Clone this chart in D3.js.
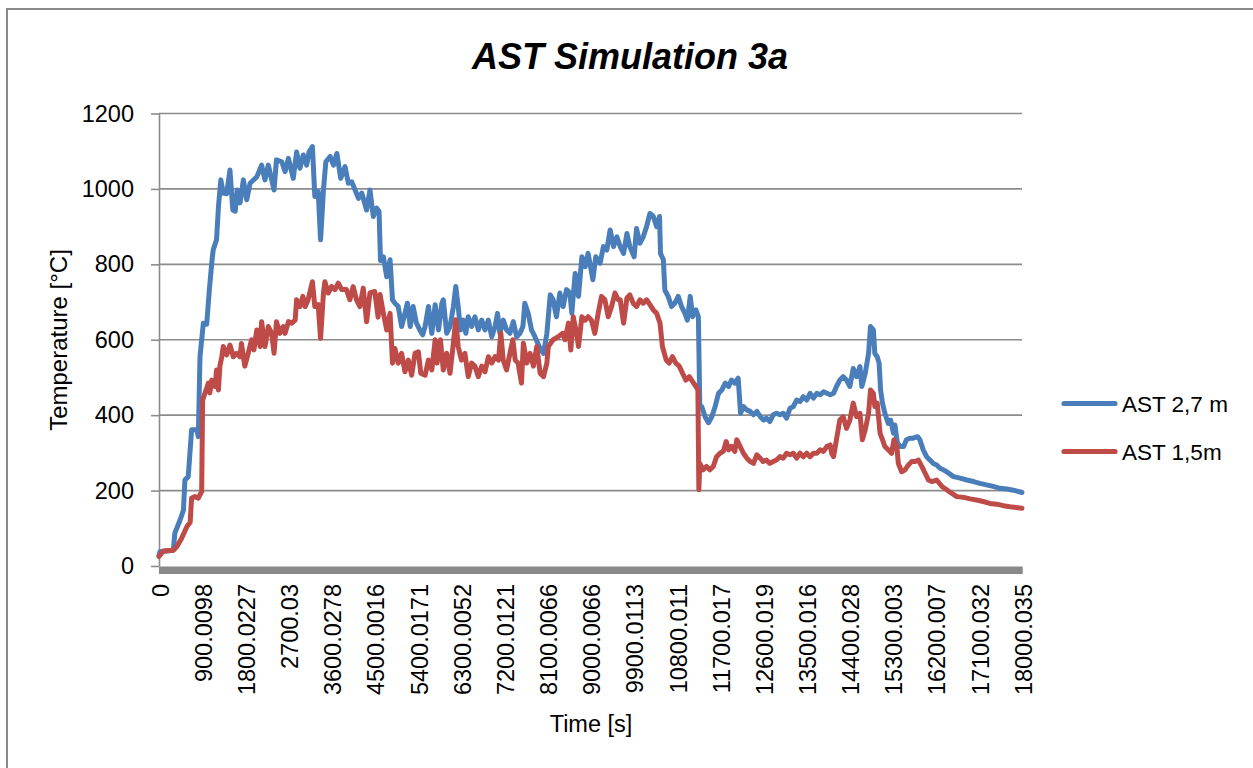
<!DOCTYPE html>
<html>
<head>
<meta charset="utf-8">
<script src="https://cdn.jsdelivr.net/npm/d3@7"></script>
<style>
  html, body { margin: 0; padding: 0; background: #fff; }
  svg { display: block; }
  text { font-family: "Liberation Sans", Arial, sans-serif; fill: #000; }
</style>
</head>
<body>
<svg id="chart" width="1253" height="768"></svg>
<script>
// Temperature readings [time (s), °C]
const ast27 = [
  [0,28],[20,38],[300,42],[330,87],[440,122],[510,148],[540,228],[610,237],[680,361],[790,361],[820,343],
  [855,555],[925,644],[995,641],[1050,732],[1100,803],[1130,838],[1200,865],[1240,953],[1290,1024],[1340,989],
  [1410,987],[1480,1050],[1540,944],[1590,941],[1630,997],[1690,963],[1760,1024],[1830,971],[1900,1015],
  [2040,1032],[2140,1063],[2210,1024],[2280,1063],[2400,997],[2450,1077],[2560,1072],[2630,1046],[2700,1081],
  [2800,1028],[2870,1098],[2940,1055],[3010,1090],[3080,1063],[3130,1098],[3200,1112],[3250,980],[3320,993],
  [3370,865],[3430,997],[3480,1072],[3570,1086],[3640,1063],[3710,1094],[3790,1028],[3880,1059],[3950,1015],
  [4020,1019],[4090,997],[4160,975],[4230,989],[4330,944],[4400,997],[4470,927],[4540,949],[4590,940],
  [4620,810],[4680,820],[4750,767],[4820,812],[4870,706],[4920,697],[4990,688],[5060,635],[5130,670],
  [5180,697],[5240,635],[5300,688],[5370,644],[5440,626],[5500,613],[5550,635],[5620,688],[5690,617],
  [5760,693],[5830,626],[5900,697],[5930,706],[6000,617],[6070,635],[6140,688],[6190,741],[6240,688],
  [6290,626],[6350,652],[6400,617],[6450,661],[6520,635],[6590,661],[6660,626],[6730,652],[6800,626],
  [6870,652],[6940,608],[7010,635],[7060,670],[7110,617],[7180,652],[7250,626],[7320,617],[7390,648],
  [7460,608],[7530,617],[7590,635],[7630,697],[7700,670],[7770,626],[7840,608],[7930,582],[8020,564],
  [8090,617],[8160,719],[8220,706],[8290,661],[8360,724],[8430,688],[8500,733],[8570,724],[8610,670],
  [8680,776],[8750,715],[8820,820],[8890,794],[8950,829],[9050,759],[9110,820],[9200,803],[9270,847],
  [9340,838],[9410,891],[9480,847],[9550,873],[9620,847],[9690,829],[9760,882],[9820,847],[9910,820],
  [9960,895],[10030,856],[10100,873],[10170,900],[10240,935],[10310,927],[10380,900],[10440,927],[10460,829],
  [10520,812],[10550,732],[10620,715],[10690,688],[10760,697],[10830,715],[10900,688],[10970,670],[11020,652],
  [11080,715],[11130,661],[11200,679],[11250,661],[11280,423],[11320,423],[11390,396],[11460,380],[11530,396],
  [11600,423],[11670,458],[11740,467],[11810,485],[11880,476],[11940,493],[12010,485],[12080,498],[12130,405],
  [12190,423],[12260,414],[12330,410],[12400,401],[12470,410],[12540,396],[12610,387],[12670,392],[12740,383],
  [12810,401],[12880,405],[12950,401],[13020,405],[13090,392],[13160,418],[13230,423],[13300,440],[13370,436],
  [13440,449],[13510,440],[13580,458],[13650,445],[13720,458],[13790,454],[13860,462],[13930,458],[14000,454],
  [14070,458],[14130,476],[14200,493],[14270,502],[14340,493],[14410,476],[14480,524],[14550,502],[14620,529],
  [14660,476],[14730,511],[14800,564],[14840,635],[14900,626],[14930,564],[14980,555],[15020,538],[15050,467],
  [15090,432],[15140,405],[15210,378],[15260,387],[15320,352],[15350,374],[15400,326],[15460,317],[15530,317],
  [15590,335],[15660,339],[15730,339],[15820,343],[15870,335],[15940,308],[16010,290],[16080,281],[16150,272],
  [16220,268],[16290,259],[16360,255],[16430,250],[16570,237],[16710,233],[16850,228],[16990,224],[17120,219],
  [17260,215],[17400,211],[17540,206],[17680,204],[17820,201],[18000,195]
];

const ast15 = [
  [0,25],[90,40],[300,42],[370,51],[470,73],[580,104],[650,116],[680,180],[750,184],[820,180],[890,197],
  [910,440],[960,459],[1030,485],[1060,459],[1100,493],[1170,476],[1200,520],[1240,467],[1270,530],[1310,555],
  [1340,582],[1410,560],[1480,586],[1550,555],[1620,564],[1690,555],[1720,590],[1790,530],[1860,564],[1930,600],
  [1980,573],[2040,626],[2110,582],[2140,648],[2210,582],[2280,635],[2350,617],[2400,564],[2450,648],[2520,617],
  [2590,635],[2630,617],[2700,648],[2770,644],[2840,652],[2870,706],[2940,688],[3000,715],[3050,688],[3110,706],
  [3200,754],[3250,688],[3320,693],[3370,604],[3430,724],[3460,754],[3530,724],[3600,741],[3670,733],[3740,750],
  [3810,733],[3910,733],[3980,706],[4050,741],[4120,706],[4190,688],[4260,737],[4330,648],[4400,724],[4500,728],
  [4570,660],[4610,720],[4680,670],[4750,626],[4820,670],[4870,538],[4920,577],[4990,538],[5060,564],[5130,515],
  [5200,546],[5270,506],[5340,564],[5410,568],[5460,511],[5550,506],[5620,546],[5690,520],[5760,600],[5800,538],
  [5870,600],[5930,520],[6000,564],[6070,511],[6140,591],[6190,653],[6240,582],[6310,546],[6380,564],[6450,502],
  [6520,538],[6590,530],[6660,502],[6730,530],[6800,515],[6870,555],[6940,538],[7010,555],[7080,546],[7130,617],
  [7180,546],[7250,520],[7320,564],[7380,600],[7430,546],[7490,538],[7560,485],[7600,591],[7670,538],[7740,564],
  [7810,530],[7880,582],[7950,511],[8020,502],[8090,538],[8120,582],[8220,600],[8330,608],[8420,617],[8470,600],
  [8540,644],[8590,573],[8640,661],[8710,617],[8750,582],[8820,661],[8890,652],[8950,661],[9020,652],[9090,617],
  [9160,670],[9230,715],[9300,706],[9370,661],[9440,688],[9510,724],[9580,706],[9620,706],[9690,644],[9760,711],
  [9820,719],[9890,697],[9960,688],[10030,706],[10100,697],[10170,706],[10240,693],[10310,679],[10380,670],
  [10450,644],[10500,582],[10580,546],[10640,538],[10710,555],[10780,538],[10850,530],[10920,511],[10990,493],
  [11060,502],[11130,489],[11200,476],[11240,467],[11260,202],[11280,272],[11350,255],[11420,264],[11490,255],
  [11560,264],[11630,290],[11700,299],[11770,304],[11830,330],[11880,308],[11940,317],[12010,304],[12050,335],
  [12120,317],[12190,299],[12260,286],[12330,277],[12400,272],[12470,295],[12540,286],[12600,277],[12670,281],
  [12740,272],[12810,277],[12880,281],[12950,290],[13020,286],[13090,299],[13160,295],[13230,299],[13300,286],
  [13370,299],[13440,290],[13510,299],[13580,290],[13650,299],[13720,299],[13790,308],[13860,304],[13930,317],
  [14000,321],[14030,299],[14070,290],[14130,335],[14200,387],[14270,396],[14340,365],[14410,387],[14480,432],
  [14550,396],[14620,405],[14670,335],[14730,361],[14800,405],[14840,467],[14900,458],[14930,423],[14980,432],
  [15040,352],[15090,335],[15140,317],[15210,308],[15280,299],[15330,335],[15390,317],[15420,272],[15490,250],
  [15560,255],[15630,268],[15700,277],[15770,277],[15840,281],[15910,264],[15980,246],[16050,228],[16120,224],
  [16220,228],[16330,211],[16430,202],[16530,193],[16640,184],[16780,182],[16920,178],[17050,175],[17190,171],
  [17330,166],[17470,164],[17610,160],[17750,157],[18000,153]
];

const xTickLabels = ["0","900.0098","1800.0227","2700.03","3600.0278","4500.0016","5400.0171",
  "6300.0052","7200.0121","8100.0066","9000.0066","9900.0113","10800.011","11700.017","12600.019",
  "13500.016","14400.028","15300.003","16200.007","17100.032","18000.035"];
const yTicks = [0, 200, 400, 600, 800, 1000, 1200];

const seriesNames = ["AST 2,7 m", "AST 1,5m"];
const seriesColors = ["#4a7ebb", "#be4b48"];

const svg = d3.select("#chart");

// chart frame
svg.append("path")
  .attr("d", "M7,800 V9 H1260")
  .attr("fill", "none").attr("stroke", "#898989").attr("stroke-width", 2);

const x = d3.scaleLinear().domain([0, 18000]).range([159, 1022]);
const y = d3.scaleLinear().domain([0, 1200]).range([566, 113.5]);

// horizontal gridlines
svg.append("g").selectAll("line").data(yTicks.filter(d => d > 0)).join("line")
  .attr("x1", 159).attr("x2", 1022)
  .attr("y1", d => y(d)).attr("y2", d => y(d))
  .attr("stroke", "#8c8c8c").attr("stroke-width", 1.6);

// value axis
const yAxis = svg.append("g").attr("transform", "translate(159,0)")
  .call(d3.axisLeft(y).tickValues(yTicks).tickFormat(d3.format("d"))
    .tickSize(8).tickPadding(17).tickSizeOuter(0));
yAxis.select(".domain").attr("stroke", "#8c8c8c").attr("stroke-width", 1.6);
yAxis.selectAll(".tick line").attr("stroke", "#8c8c8c").attr("stroke-width", 1.6);
yAxis.selectAll(".tick text").attr("font-size", 23.5)
  .attr("font-family", "Liberation Sans, Arial, sans-serif").attr("fill", "#000");

// series lines
const line = d3.line().x(d => x(d[0])).y(d => y(d[1]));
[ast27, ast15].forEach((data, i) => {
  svg.append("path").datum(data)
    .attr("d", line)
    .attr("fill", "none")
    .attr("stroke", seriesColors[i])
    .attr("stroke-width", 5)
    .attr("stroke-linejoin", "round")
    .attr("stroke-linecap", "round");
});

// category axis band (dense tick marks)
svg.append("rect")
  .attr("x", x(0)).attr("y", y(0) + 0.5)
  .attr("width", x(18000) - x(0) + 0.7).attr("height", 7.5)
  .attr("fill", "#898989");

// category labels
svg.append("g").selectAll("text").data(xTickLabels).join("text")
  .attr("transform", d => `translate(${x(parseFloat(d)) + 1.5},584) rotate(-90)`)
  .attr("text-anchor", "end")
  .attr("dy", "0.35em")
  .attr("font-size", 23.5)
  .text(d => d);

// title
svg.append("text")
  .attr("x", 630).attr("y", 69)
  .attr("text-anchor", "middle")
  .attr("font-size", 36).attr("font-weight", "bold").attr("font-style", "italic")
  .text("AST Simulation 3a");

// axis titles
svg.append("text")
  .attr("transform", "translate(67,340) rotate(-90)")
  .attr("text-anchor", "middle")
  .attr("font-size", 24)
  .text("Temperature [°C]");

svg.append("text")
  .attr("x", 591).attr("y", 732)
  .attr("text-anchor", "middle")
  .attr("font-size", 23.5)
  .text("Time [s]");

// legend
const legend = svg.append("g").selectAll("g").data(seriesNames).join("g")
  .attr("transform", (d, i) => `translate(0,${403.5 + i * 48})`);
legend.append("line")
  .attr("x1", 1064).attr("x2", 1115)
  .attr("stroke", (d, i) => seriesColors[i])
  .attr("stroke-width", 5.2).attr("stroke-linecap", "round");
legend.append("text")
  .attr("x", 1122).attr("y", 8)
  .attr("font-size", 22.5)
  .text(d => d);
</script>
</body>
</html>
